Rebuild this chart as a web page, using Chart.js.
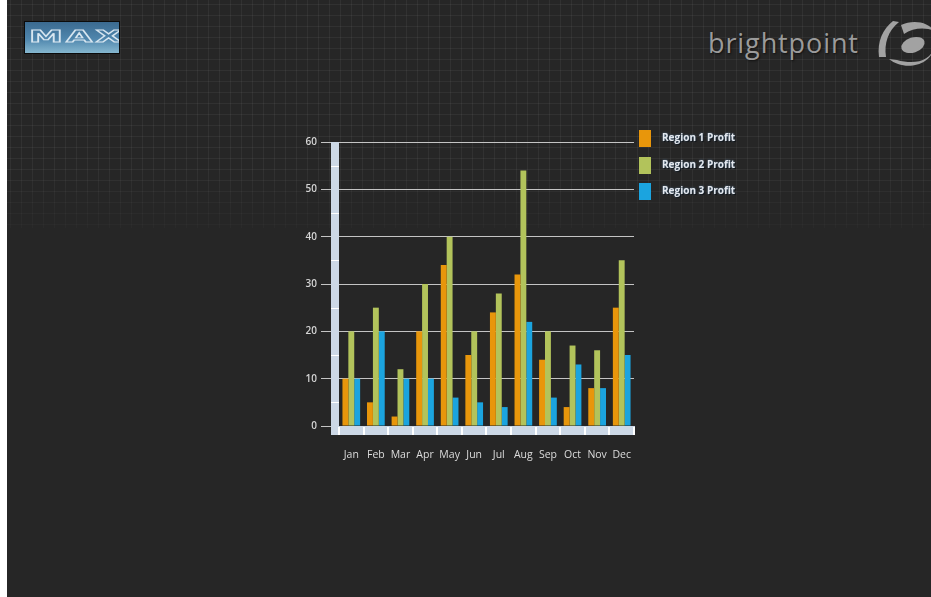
<!DOCTYPE html>
<html>
<head>
<meta charset="utf-8">
<script src="https://cdn.jsdelivr.net/npm/chart.js@4.4.1/dist/chart.umd.min.js"></script>
<style>
  html, body { margin: 0; padding: 0; width: 931px; height: 597px; overflow: hidden; background: #ffffff; }
  #page { position: absolute; left: 7px; top: 0; width: 924px; height: 597px; background: #262626; }
  #gridbg { position: absolute; left: 0; top: 0; width: 924px; height: 228px;
    background-image:
      linear-gradient(to right, rgba(255,255,255,0.05) 1px, transparent 1px),
      linear-gradient(to bottom, rgba(255,255,255,0.05) 1px, transparent 1px);
    background-size: 11px 11px; background-position: 3px 4px;
    -webkit-mask-image: linear-gradient(to bottom, #000 0%, #000 75%, rgba(0,0,0,0.35) 100%);
    mask-image: linear-gradient(to bottom, #000 0%, #000 75%, rgba(0,0,0,0.35) 100%); }
  #maxlogo { position: absolute; left: 17px; top: 21px; width: 94px; height: 31px;
    border: 1px solid #0b0b0b;
    background: linear-gradient(to bottom, #3b6a90 0%, #4f86ad 55%, #86b7d0 100%); overflow: hidden; }
  #maxlogo span { position: absolute; left: 4px; top: 2px; font: bold 22px "DejaVu Sans", sans-serif;
    color: transparent; -webkit-text-stroke: 1.2px #d8e6f0; letter-spacing: 2px;
    transform: scaleX(1.55) scaleY(0.75); transform-origin: 0 50%; }
  #bp { position: absolute; left: 701px; top: 24px; font: 27px "Open Sans", sans-serif; color: #9b9b9b;
    letter-spacing: 0.9px; text-shadow: 1px 1px 2px #111; }
  #bpicon { position: absolute; left: 864px; top: 17px; }
  #chartwrap { position: absolute; left: 0; top: 0; width: 931px; height: 597px; }
  #legend { position: absolute; left: 639px; top: 130px; }
  .li { position: relative; height: 17px; margin-bottom: 9.5px; }
  .li .sw { position: absolute; left: 0; top: 0; width: 12px; height: 17px; }
  .li .tx { position: absolute; left: 23px; top: 0px; font: bold 10px "Open Sans", sans-serif; color: #e4e8ee;
    white-space: nowrap; text-shadow: 0 0 2px #5a7a9a, 1px 1px 1px #000; }
</style>
</head>
<body>
<div id="page">
  <div id="gridbg"></div>
  <div id="maxlogo"><span>MAX</span></div>
  <div id="bp">brightpoint</div>
  <svg id="bpicon" width="64" height="52" viewBox="0 0 64 52">
    <path d="M22 4 C 12 12, 6 24, 8 40 L 15 40 C 13 26, 17 14, 28 5 Z" fill="#a2a2a2"/>
    <path d="M30 8 C 42 2, 58 5, 63 14 C 54 10, 42 11, 33 17 Z" fill="#a2a2a2"/>
    <ellipse cx="42" cy="28" rx="12" ry="7.5" transform="rotate(-18 42 28)" fill="#a2a2a2"/>
    <path d="M18 42 C 32 54, 60 50, 63 30 C 60 44, 44 48, 26 43 Z" fill="#a2a2a2"/>
  </svg>
</div>
<div id="chartwrap"><canvas id="c" width="931" height="597"></canvas></div>
<div id="legend"></div>
<script>
const categories = ['Jan','Feb','Mar','Apr','May','Jun','Jul','Aug','Sep','Oct','Nov','Dec'];
const region1Profit = [10, 5, 2, 20, 34, 15, 24, 32, 14, 4, 8, 25];
const region2Profit = [20, 25, 12, 30, 40, 20, 28, 54, 20, 17, 16, 35];
const region3Profit = [10, 20, 10, 10, 6, 5, 4, 22, 6, 13, 8, 15];
const seriesNames = ['Region 1 Profit', 'Region 2 Profit', 'Region 3 Profit'];
const seriesColors = ['#e8960b', '#b2c35b', '#1ba4df'];
const yTicks = [0, 10, 20, 30, 40, 50, 60];

const axisDecor = {
  id: 'axisDecor',
  beforeDatasetsDraw(chart) {
    const ctx = chart.ctx;
    const x = chart.scales.x, y = chart.scales.y;
    const area = chart.chartArea;
    const barW = 8;
    const y0 = y.getPixelForValue(0);
    const yTop = y.getPixelForValue(60);
    ctx.save();
    ctx.fillStyle = '#ccd8e6';
    ctx.fillRect(area.left - barW, yTop, barW, y0 - yTop + barW + 1);
    ctx.fillRect(area.left - barW, y0, area.right - area.left + barW + 1, barW + 1);
    ctx.fillStyle = '#ffffff';
    for (let v = 5; v < 60; v += 10) {
      const py = Math.round(y.getPixelForValue(v));
      ctx.fillRect(area.left - barW, py, barW, 1);
    }
    const half = (x.getPixelForValue(1) - x.getPixelForValue(0)) / 2;
    for (let i = 0; i <= categories.length; i++) {
      const px = Math.round(x.getPixelForValue(0) - half + i * half * 2);
      ctx.fillRect(px - 1, y0 + 1, 2, barW);
    }
    ctx.restore();
  }
};

new Chart(document.getElementById('c'), {
  type: 'bar',
  data: {
    labels: categories,
    datasets: [
      { label: seriesNames[0], data: region1Profit, backgroundColor: seriesColors[0], borderWidth: 0 },
      { label: seriesNames[1], data: region2Profit, backgroundColor: seriesColors[1], borderWidth: 0 },
      { label: seriesNames[2], data: region3Profit, backgroundColor: seriesColors[2], borderWidth: 0 }
    ]
  },
  options: {
    responsive: false,
    animation: false,
    layout: { padding: { left: 290, right: 297, top: 142, bottom: 131 } },
    datasets: { bar: { categoryPercentage: 0.72, barPercentage: 1.0 } },
    plugins: { legend: { display: false }, tooltip: { enabled: false } },
    scales: {
      x: {
        grid: { display: false, drawTicks: false },
        border: { display: false },
        ticks: { color: '#dcdcdc', font: { family: 'Open Sans', size: 10.5 }, padding: 23, maxRotation: 0, autoSkip: false },
        afterFit(s) { s.height = 40; }
      },
      y: {
        min: 0, max: 60,
        afterBuildTicks(s) { s.ticks = yTicks.map(v => ({ value: v })); },
        grid: { color: '#c4c4c4', lineWidth: 1, drawTicks: true, tickLength: 18, tickColor: '#c4c4c4' },
        border: { display: false },
        ticks: { color: '#d4d4d4', font: { family: 'Open Sans', size: 10, weight: '600' }, padding: 4 },
        afterFit(s) { s.width = 49; }
      }
    }
  },
  plugins: [axisDecor]
});

const leg = document.getElementById('legend');
seriesNames.forEach((n, i) => {
  const d = document.createElement('div');
  d.className = 'li';
  d.innerHTML = '<div class="sw" style="background:' + seriesColors[i] + '"></div><div class="tx">' + n + '</div>';
  leg.appendChild(d);
});
</script>
</body>
</html>
